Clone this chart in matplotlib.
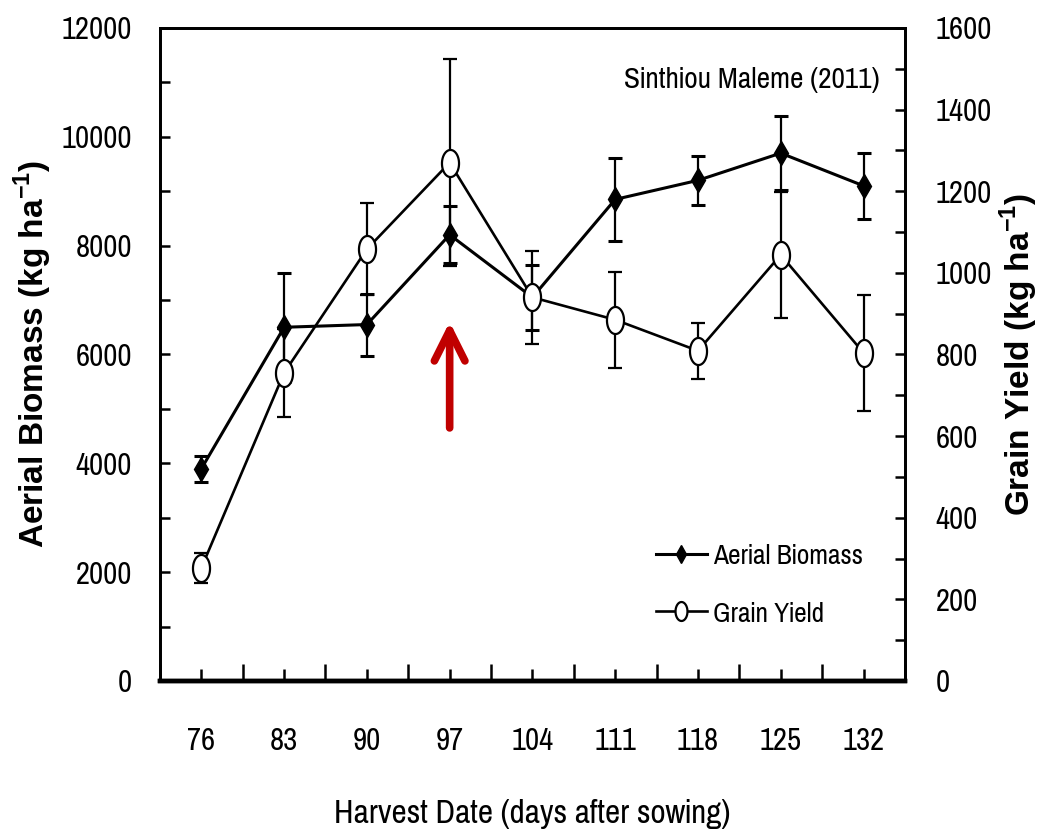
import numpy as np
import matplotlib
matplotlib.use("Agg")
import matplotlib.pyplot as plt
from matplotlib.path import Path
from matplotlib.ticker import MultipleLocator, FixedLocator

# ---------------------------------------------------------------------------
# data (Sinthiou Maleme, 2011)
# ---------------------------------------------------------------------------
DAYS = [76, 83, 90, 97, 104, 111, 118, 125, 132]
BIOMASS = [3900, 6500, 6550, 8200, 7050, 8850, 9200, 9700, 9100]      # kg/ha
BIOMASS_ERR = [240, 1000, 570, 520, 600, 760, 450, 680, 610]
GRAIN = [277, 755, 1058, 1270, 940, 885, 809, 1044, 804]               # kg/ha
GRAIN_ERR = [37, 108, 113, 253, 114, 117, 68, 155, 142]

ARROW_DAY = 97
ARROW_FROM, ARROW_TO = 4650, 6600   # left-axis units

RED = "#C00000"
NARROW = ["Pragati Narrow", "Archivo Narrow", "Liberation Sans", "DejaVu Sans"]
BOLD = ["Liberation Sans", "DejaVu Sans"]

plt.rcParams["font.family"] = NARROW
plt.rcParams["mathtext.fontset"] = "custom"
plt.rcParams["mathtext.rm"] = "Liberation Sans"
plt.rcParams["mathtext.bf"] = "Liberation Sans:bold"

# tall open ellipse, as the circles look in the original
t = np.linspace(0, 2 * np.pi, 64)
ELLIPSE = Path(np.column_stack([0.63 * np.cos(t), np.sin(t)]), closed=True)

fig = plt.figure(figsize=(10.4, 8.38), dpi=100)
ax = fig.add_axes([0.1538, 0.1874, 0.7163, 0.7792])
ax2 = ax.twinx()

bio = ax.errorbar(DAYS, BIOMASS, yerr=BIOMASS_ERR, color="k", lw=2.2,
                  marker="d", ms=12.5, mfc="k", mec="k",
                  elinewidth=1.6, capsize=5, capthick=2.2, zorder=3)
grn = ax2.errorbar(DAYS, GRAIN, yerr=GRAIN_ERR, color="k", lw=1.9,
                   marker=ELLIPSE, ms=19.5, mfc="white", mec="k", mew=1.6,
                   elinewidth=1.6, capsize=5, capthick=2.2, zorder=3)

ax.annotate("", xy=(ARROW_DAY, ARROW_TO), xytext=(ARROW_DAY, ARROW_FROM),
            arrowprops=dict(arrowstyle="->,head_length=2.2,head_width=1.1",
                            color=RED, lw=5.5, capstyle="round",
                            joinstyle="round", shrinkA=0, shrinkB=0))

ax.set_xlim(72.5, 135.5)
ax.set_ylim(0, 12000)
ax2.set_ylim(0, 1600)
ax.set_xticks(DAYS)
ax.set_xticklabels([str(d) for d in DAYS])
ax.xaxis.set_minor_locator(FixedLocator([d - 3.5 for d in DAYS] + [DAYS[-1] + 3.5]))
ax.yaxis.set_major_locator(MultipleLocator(2000))
ax.yaxis.set_minor_locator(MultipleLocator(1000))
ax2.yaxis.set_major_locator(MultipleLocator(200))
ax2.yaxis.set_minor_locator(MultipleLocator(100))

ax.tick_params(axis="both", which="both", direction="in", width=1.8, labelsize=24)
ax.tick_params(axis="y", which="both", length=7, pad=20)
ax.tick_params(axis="x", which="major", length=9, pad=33)
ax.tick_params(axis="x", which="minor", length=12)
ax2.tick_params(axis="y", which="both", direction="in", width=1.8, length=7,
                labelsize=24, pad=22)

for a in (ax, ax2):
    for side in ("left", "right", "top"):
        a.spines[side].set_linewidth(2.0)
    a.spines["bottom"].set_linewidth(3.2)

ax.set_ylabel(r"Aerial Biomass (kg ha$^{\mathbf{-1}}$)", family=BOLD,
              fontweight="bold", fontsize=24)
ax2.set_ylabel(r"Grain Yield (kg ha$^{\mathbf{-1}}$)", family=BOLD,
               fontweight="bold", fontsize=24)
ax.set_xlabel("Harvest Date (days after sowing)", fontsize=26)
ax.yaxis.set_label_coords(-0.170, 0.5)
ax2.yaxis.set_label_coords(1.153, 0.5)
ax.xaxis.set_label_coords(0.5, -0.203)
for lab in (ax.yaxis.label, ax2.yaxis.label, ax.xaxis.label):
    lab.set_verticalalignment("center")
    lab.set_rotation_mode("anchor")

ax2.text(0.966, 0.92, "Sinthiou Maleme (2011)", transform=ax2.transAxes,
         ha="right", va="center", fontsize=23)

ax2.legend([bio[0], grn[0]], ["Aerial Biomass", "Grain Yield"], loc="center left",
           bbox_to_anchor=(0.666, 0.147), frameon=False, fontsize=21.5,
           handlelength=1.7, handletextpad=0.2, labelspacing=1.05,
           borderpad=0, borderaxespad=0, markerscale=0.7)

fig.savefig("out.png", dpi=100)
